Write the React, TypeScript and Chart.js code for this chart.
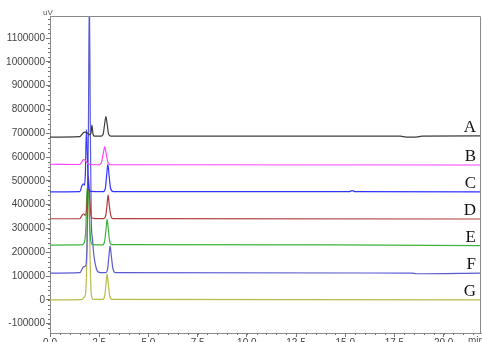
import React, { useEffect, useRef } from "react";
import { Chart, registerables } from "chart.js";

Chart.register(...registerables);

// ---- Data (time in min, signal in uV) ----
const seriesNames = ["A", "B", "C", "D", "E", "F", "G"];
const seriesColors = ["#3c3c3c", "#ff44ff", "#3434ff", "#b03c3c", "#3db43d", "#5a5ad2", "#b9b94c"];
const seriesBaselines = [688000, 567000, 454000, 340000, 227000, 113000, 0];

const xTickValues = [0, 2.5, 5, 7.5, 10, 12.5, 15, 17.5, 20];
const yTickValues = [-100000, 0, 100000, 200000, 300000, 400000, 500000, 600000, 700000, 800000, 900000, 1000000, 1100000];

const timeA = [0, 1.5, 1.62, 1.72, 1.8, 1.88, 2.0, 2.08, 2.13, 2.18, 2.26, 2.6, 2.7, 2.77, 2.84, 2.91, 2.98, 3.1, 17.8, 18.1, 18.6, 18.9, 21.9];
const valuesA = [684000, 686000, 695000, 704000, 705000, 702000, 694000, 700000, 735000, 700000, 688000, 688000, 696000, 735000, 770000, 735000, 696000, 688000, 688000, 684000, 684000, 688000, 689000];

const timeB = [0, 1.5, 1.6, 1.7, 1.8, 1.95, 2.5, 2.6, 2.7, 2.78, 2.86, 2.96, 3.08, 21.9];
const valuesB = [570000, 569000, 578000, 590000, 586000, 570000, 568000, 574000, 612000, 643000, 612000, 574000, 568000, 567000];

const timeC = [0, 1.52, 1.6, 1.68, 1.76, 1.8, 1.85, 1.9, 1.96, 2.06, 2.7, 2.81, 2.88, 2.94, 3.0, 3.08, 3.22, 15.2, 15.35, 15.5, 21.9];
const valuesC = [454000, 455000, 474000, 488000, 482000, 540000, 715000, 610000, 472000, 456000, 455000, 468000, 525000, 570000, 525000, 468000, 455000, 455000, 459000, 455000, 454000];

const timeD = [0, 1.52, 1.6, 1.7, 1.8, 1.88, 1.95, 2.02, 2.1, 2.3, 2.74, 2.84, 2.9, 2.95, 3.01, 3.08, 3.18, 21.9];
const valuesD = [341000, 341000, 352000, 362000, 356000, 400000, 520000, 420000, 345000, 342000, 342000, 358000, 400000, 441000, 400000, 358000, 342000, 340000];

const timeE = [0, 1.6, 1.74, 1.82, 1.88, 1.95, 2.01, 2.07, 2.16, 2.68, 2.78, 2.85, 2.9, 2.96, 3.03, 3.14, 14.5, 21.9];
const valuesE = [230000, 231000, 240000, 300000, 470000, 460000, 330000, 250000, 232000, 231000, 248000, 300000, 340000, 300000, 248000, 232000, 231000, 228000];

const timeF = [0, 1.52, 1.62, 1.7, 1.8, 1.88, 1.95, 2.0, 2.05, 2.1, 2.15, 2.22, 2.3, 2.4, 2.55, 2.84, 2.94, 3.0, 3.05, 3.11, 3.19, 3.32, 18.4, 18.6, 21.9];
const valuesF = [113000, 115000, 128000, 139000, 142000, 220000, 700000, 1300000, 700000, 320000, 262000, 195000, 150000, 122000, 115000, 115000, 138000, 190000, 227000, 190000, 135000, 115000, 113000, 110000, 113000];

const timeG = [0, 1.6, 1.72, 1.8, 1.86, 1.92, 1.98, 2.04, 2.1, 2.2, 2.68, 2.78, 2.85, 2.9, 2.96, 3.03, 3.14, 21.9];
const valuesG = [0, 1000, 10000, 22000, 130000, 450000, 420000, 160000, 22000, 2000, 2000, 18000, 70000, 109000, 70000, 18000, 2000, 0];

const seriesTimes = [timeA, timeB, timeC, timeD, timeE, timeF, timeG];
const seriesValues = [valuesA, valuesB, valuesC, valuesD, valuesE, valuesF, valuesG];

const xMin = 0;
const xMax = 21.9;
const yMin = -139000;
const yMax = 1193000;

const extrasPlugin = {
  id: "extras",
  afterDraw(chart: any) {
    const { ctx, chartArea, scales } = chart;
    const xs = scales.x;
    const ys = scales.y;
    ctx.save();
    // frame top & right
    ctx.strokeStyle = "#8a8a8a";
    ctx.lineWidth = 1;
    ctx.beginPath();
    ctx.moveTo(chartArea.left, chartArea.top + 0.5);
    ctx.lineTo(chartArea.right - 0.5, chartArea.top + 0.5);
    ctx.lineTo(chartArea.right - 0.5, chartArea.bottom);
    ctx.stroke();
    // minor ticks
    ctx.strokeStyle = "#777";
    ctx.beginPath();
    for (let v = 0; v <= xMax; v += 0.5) {
      const px = Math.round(xs.getPixelForValue(v)) + 0.5;
      ctx.moveTo(px, chartArea.bottom);
      ctx.lineTo(px, chartArea.bottom + 2);
    }
    for (let v = -120000; v <= yMax; v += 20000) {
      const py = Math.round(ys.getPixelForValue(v)) + 0.5;
      ctx.moveTo(chartArea.left, py);
      ctx.lineTo(chartArea.left - 2, py);
    }
    ctx.stroke();
    // unit labels
    ctx.fillStyle = "#555";
    ctx.font = '8px "Liberation Sans", Arial, sans-serif';
    ctx.textAlign = "left";
    ctx.textBaseline = "alphabetic";
    ctx.fillText("uV", 43, 15);
    ctx.font = '10px "Liberation Sans", Arial, sans-serif';
    ctx.textBaseline = "top";
    ctx.fillText("min", 468, 336);
    // series labels
    ctx.fillStyle = "#111";
    ctx.font = '17px "Liberation Serif", "Times New Roman", serif';
    ctx.textAlign = "right";
    ctx.textBaseline = "alphabetic";
    seriesNames.forEach((n, i) => {
      const py = ys.getPixelForValue(seriesBaselines[i]) - 4;
      ctx.fillText(n, 476, py);
    });
    ctx.restore();
  },
};

export default function App() {
  const ref = useRef<HTMLCanvasElement | null>(null);
  useEffect(() => {
    if (!ref.current) return;
    const datasets = seriesNames.map((name, i) => ({
      label: name,
      data: seriesTimes[i].map((t, j) => ({ x: t, y: seriesValues[i][j] })),
      borderColor: seriesColors[i],
      backgroundColor: seriesColors[i],
      borderWidth: 1.2,
      pointRadius: 0,
      cubicInterpolationMode: "monotone" as const,
      fill: false,
    }));
    const chart = new Chart(ref.current, {
      type: "line",
      data: { datasets },
      plugins: [extrasPlugin],
      options: {
        animation: false,
        responsive: false,
        maintainAspectRatio: false,
        layout: { padding: { top: 16, right: 1, left: 0, bottom: 0 } },
        plugins: { legend: { display: false }, tooltip: { enabled: false } },
        scales: {
          x: {
            type: "linear",
            min: xMin,
            max: xMax,
            afterFit: (s: any) => {
              s.height = 16;
            },
            afterBuildTicks: (s: any) => {
              s.ticks = xTickValues.map((v) => ({ value: v }));
            },
            ticks: {
              autoSkip: false,
              maxRotation: 0,
              padding: 0,
              color: "#444",
              font: { family: '"Liberation Sans", Arial, sans-serif', size: 10 },
              callback: (v: any) => Number(v).toFixed(1),
            },
            grid: { drawOnChartArea: false, drawTicks: true, tickLength: 4, color: "#777" },
            border: { color: "#8a8a8a" },
          },
          y: {
            type: "linear",
            min: yMin,
            max: yMax,
            afterFit: (s: any) => {
              s.width = 50;
            },
            afterBuildTicks: (s: any) => {
              s.ticks = yTickValues.map((v) => ({ value: v }));
            },
            ticks: {
              autoSkip: false,
              padding: 1,
              color: "#444",
              font: { family: '"Liberation Sans", Arial, sans-serif', size: 10 },
              callback: (v: any) => String(Math.round(Number(v))),
            },
            grid: { drawOnChartArea: false, drawTicks: true, tickLength: 4, color: "#777" },
            border: { color: "#8a8a8a" },
          },
        },
      },
    });
    return () => chart.destroy();
  }, []);
  return (
    <div style={{ position: "fixed", left: 0, top: 0, width: 482, height: 349, background: "#fff" }}>
      <canvas ref={ref} width={482} height={349} style={{ display: "block" }} />
    </div>
  );
}
